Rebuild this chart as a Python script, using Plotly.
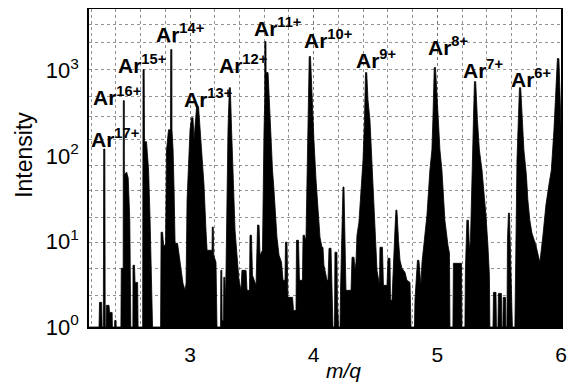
import numpy as np
import plotly.graph_objects as go

# ---- data (m/q, intensity) ----
SPEC_X = [2.184, 2.264, 2.268, 2.285, 2.289, 2.299, 2.302, 2.311, 2.314, 2.321, 2.323, 2.345, 2.349, 2.370, 2.372,
          2.390, 2.391, 2.402, 2.403, 2.441, 2.444, 2.4595, 2.4605, 2.4685, 2.469, 2.487, 2.500, 2.513, 2.519, 2.521,
          2.538, 2.539, 2.551, 2.555, 2.576, 2.580, 2.617, 2.620, 2.629, 2.632, 2.648, 2.665, 2.677, 2.689, 2.697,
          2.762, 2.766, 2.778, 2.786, 2.802, 2.810, 2.826, 2.842, 2.844, 2.853, 2.854, 2.863, 2.871, 2.879, 2.899,
          2.919, 2.943, 2.960, 2.968, 2.976, 2.988, 3.000, 3.012, 3.024, 3.032, 3.040, 3.053, 3.069, 3.081, 3.097,
          3.113, 3.129, 3.138, 3.178, 3.180, 3.188, 3.192, 3.210, 3.218, 3.247, 3.249, 3.257, 3.260, 3.271, 3.273,
          3.281, 3.287, 3.291, 3.299, 3.307, 3.318, 3.326, 3.336, 3.348, 3.364, 3.380, 3.396, 3.412, 3.420, 3.453,
          3.461, 3.481, 3.485, 3.497, 3.505, 3.534, 3.546, 3.558, 3.566, 3.586, 3.590, 3.598, 3.604, 3.605, 3.614,
          3.615, 3.631, 3.643, 3.651, 3.667, 3.679, 3.703, 3.720, 3.740, 3.752, 3.768, 3.772, 3.784, 3.792, 3.829,
          3.837, 3.857, 3.861, 3.877, 3.885, 3.909, 3.914, 3.926, 3.934, 3.938, 3.946, 3.954, 3.964, 3.974, 3.986,
          4.002, 4.019, 4.039, 4.051, 4.067, 4.075, 4.083, 4.108, 4.116, 4.124, 4.140, 4.148, 4.156, 4.168, 4.172,
          4.188, 4.192, 4.201, 4.213, 4.217, 4.229, 4.237, 4.245, 4.253, 4.261, 4.302, 4.310, 4.326, 4.334, 4.342,
          4.350, 4.366, 4.382, 4.399, 4.411, 4.419, 4.429, 4.439, 4.455, 4.475, 4.488, 4.500, 4.512, 4.532, 4.536,
          4.556, 4.564, 4.593, 4.601, 4.617, 4.621, 4.633, 4.641, 4.657, 4.665, 4.673, 4.686, 4.698, 4.714, 4.738,
          4.754, 4.779, 4.787, 4.815, 4.819, 4.839, 4.851, 4.867, 4.876, 4.884, 4.900, 4.916, 4.940, 4.956, 4.964,
          4.975, 4.985, 5.005, 5.021, 5.037, 5.061, 5.086, 5.098, 5.102, 5.126, 5.130, 5.195, 5.199, 5.223, 5.227,
          5.239, 5.251, 5.260, 5.268, 5.276, 5.284, 5.292, 5.300, 5.310, 5.324, 5.340, 5.361, 5.377, 5.393, 5.409,
          5.421, 5.425, 5.450, 5.454, 5.474, 5.478, 5.490, 5.494, 5.518, 5.522, 5.530, 5.533, 5.551, 5.555, 5.563,
          5.567, 5.575, 5.583, 5.595, 5.607, 5.627, 5.631, 5.640, 5.644, 5.656, 5.664, 5.674, 5.684, 5.700, 5.720,
          5.732, 5.748, 5.765, 5.797, 5.829, 5.854, 5.878, 5.902, 5.922, 5.943, 5.959, 5.971, 5.983, 5.991, 6.007,
          6.032, 6.072]
SPEC_Y = [1, 1, 1.94, 1.94, 1, 1, 120, 120, 1, 1, 1.79, 1.79, 1.48, 1.48, 1,
          1, 1.19, 1.19, 1, 1, 4.85, 4.85, 441, 441, 59.7, 64.7, 55.1, 17.7, 2.05, 1,
          1, 5.26, 5.26, 3.32, 3.32, 1, 1, 1016, 1016, 146, 146, 68.3, 17.7, 2.05, 1,
          1, 12.8, 12.8, 9.02, 9.02, 117, 201, 201, 1742, 1742, 201, 117, 39.8, 9.52, 9.52,
          5.70, 3.24, 2.68, 3.24, 30.4, 89.5, 201, 278, 278, 154, 230, 374, 374, 201, 89.5,
          45.6, 13.5, 7.88, 7.88, 14.7, 14.7, 6.89, 5.70, 1, 1, 4.59, 4.59, 1.19, 1.19, 3.80,
          3.80, 2.05, 4.59, 52.1, 201, 625, 625, 201, 59.7, 13.5, 6.89, 3.51, 2.68, 4.59, 4.59,
          2.68, 2.68, 11.8, 11.8, 4.02, 3.07, 15.5, 15.5, 6.89, 7.88, 52.1, 185, 452, 2163, 2163,
          937, 937, 345, 185, 68.3, 39.8, 11.2, 6.89, 5.70, 3.51, 3.51, 9.79, 9.79, 2.22, 2.22,
          1.56, 1.56, 10.3, 10.3, 3.51, 3.51, 11.8, 11.8, 10.3, 11.2, 52.1, 264, 1443, 1443, 452,
          154, 52.1, 17.7, 11.2, 8.55, 8.55, 5.26, 3.51, 3.51, 8.32, 8.32, 2.68, 1, 1, 7.47,
          7.47, 2.05, 1, 1, 2.68, 13.5, 43.2, 43.2, 6.02, 2.68, 2.68, 6.53, 6.53, 4.59, 5.70,
          11.8, 16.8, 39.8, 89.5, 264, 937, 937, 452, 264, 68.3, 30.4, 10.3, 4.59, 3.07, 8.55,
          8.55, 3.07, 3.07, 6.35, 6.35, 2.05, 2.05, 4.59, 13.5, 23.2, 23.2, 10.3, 6.02, 4.85, 4.35,
          3.51, 3.32, 1, 1, 2.05, 6.02, 6.02, 3.07, 5.70, 7.27, 11.8, 20.3, 68.3, 117, 264,
          1074, 1074, 264, 117, 68.3, 17.7, 9.02, 7.27, 1, 1, 5.55, 5.55, 1, 1, 4.59,
          17.7, 17.7, 7.88, 10.3, 39.8, 117, 264, 735, 735, 264, 117, 68.3, 39.8, 20.3, 9.02,
          4.02, 1, 1, 2.54, 2.54, 1, 1, 2.47, 2.47, 1, 1, 2.22, 2.22, 1, 1,
          10.3, 21.4, 21.4, 6.02, 1, 1, 6.02, 30.4, 89.5, 345, 625, 625, 345, 117, 59.7,
          30.4, 17.7, 12.5, 9.02, 5.70, 11.8, 26.6, 45.6, 68.3, 201, 518, 1368, 1368, 592, 117,
          7.88, 1]

# peak labels (charge state, label anchor m/q, label baseline intensity)
CHARGES = [17, 16, 15, 14, 13, 12, 11, 10, 9, 8, 7, 6]
LABEL_X = [2.192, 2.208, 2.410, 2.717, 2.944, 3.227, 3.509, 3.914, 4.334, 4.916, 5.199, 5.587]
LABEL_Y = [127, 395, 937, 2163, 374, 937, 2477, 1841, 1074, 1524, 819, 643]

X_TICKS = [3, 4, 5, 6]
Y_TICKS = [1, 10, 100, 1000]
Y_TICK_TEXT = ["10<sup>0</sup>", "10<sup>1</sup>", "10<sup>2</sup>", "10<sup>3</sup>"]
GRID_Y = [2.34, 4.85, 9.79, 19.2, 39.8, 76.2, 154, 286, 490, 1016, 2107, 3427]

FONT = "Liberation Sans, Arial, Helvetica, sans-serif"
GRID = "rgba(110,110,110,0.75)"

fig = go.Figure()
fig.add_trace(go.Scatter(
    x=SPEC_X, y=SPEC_Y, mode="lines", fill="toself",
    fillcolor="black", line=dict(color="black", width=0.8),
    hoverinfo="skip", showlegend=False))

for q, lx, ly in zip(CHARGES, LABEL_X, LABEL_Y):
    fig.add_annotation(
        x=lx, y=np.log10(ly), xref="x", yref="y",
        text=f"<b>Ar<sup>{q}+</sup></b>", showarrow=False,
        xanchor="left", yanchor="bottom", yshift=-5, borderpad=0,
        font=dict(family=FONT, size=21, color="black"))

fig.add_annotation(x=-0.138, y=0.541, xref="paper", yref="paper",
                   text="Intensity", textangle=-90, showarrow=False,
                   xanchor="center", yanchor="middle",
                   font=dict(family=FONT, size=23, color="black"))
fig.add_annotation(x=0.540, y=-0.138, xref="paper", yref="paper",
                   text="<i>m/q</i>", showarrow=False,
                   xanchor="center", yanchor="middle",
                   font=dict(family=FONT, size=21, color="black"))

# the page body adds an 8px offset, so the figure is 8px smaller and margins shifted
fig.update_layout(
    width=568, height=377,
    margin=dict(l=81, r=15, t=1, b=58, autoexpand=False),
    paper_bgcolor="white", plot_bgcolor="white",
    showlegend=False,
    xaxis=dict(
        range=[2.183, 6.0], tickvals=X_TICKS, ticktext=[str(t) for t in X_TICKS],
        ticks="", ticklabelstandoff=8, automargin=False,
        tickfont=dict(family=FONT, size=21, color="black"),
        showline=True, mirror=True, linecolor="black", linewidth=1.5,
        showgrid=True, gridcolor=GRID, griddash="dot", gridwidth=1,
        minor=dict(dtick=0.2, tick0=2.2, showgrid=True, gridcolor=GRID,
                   griddash="dot", gridwidth=1),
        zeroline=False),
    yaxis=dict(
        type="log", range=[0, 3.715], tickvals=Y_TICKS, ticktext=Y_TICK_TEXT,
        ticks="", ticklabelstandoff=4, automargin=False,
        tickfont=dict(family=FONT, size=22, color="black"),
        showline=True, mirror=True, linecolor="black", linewidth=1.5,
        showgrid=False,
        minor=dict(tickvals=GRID_Y, showgrid=True, gridcolor=GRID,
                   griddash="dot", gridwidth=1),
        zeroline=False),
)

fig.write_html("out.html")
